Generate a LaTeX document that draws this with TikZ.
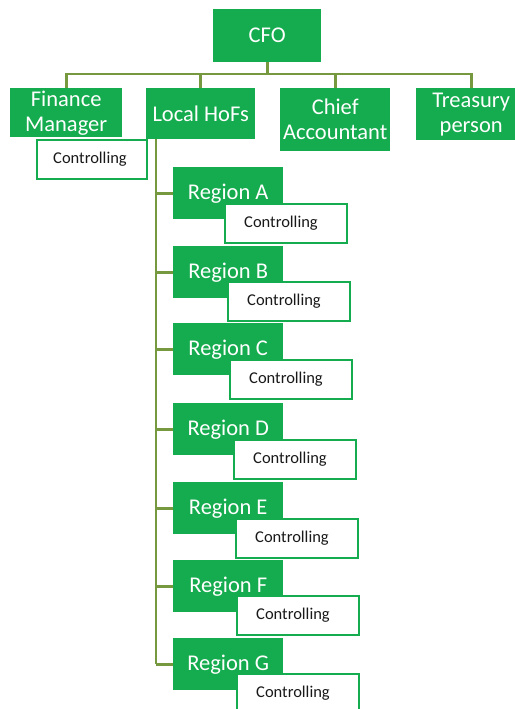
\documentclass[tikz,border=0pt]{standalone}
\usepackage{fontspec}
\setmainfont{Carlito}
\definecolor{boxgreen}{RGB}{20,172,78}
\definecolor{linkgreen}{RGB}{118,152,62}
\definecolor{inktext}{RGB}{25,25,25}
\tikzset{
  gbox/.style={fill=boxgreen, draw=none, text=white, anchor=north west,
    inner sep=0pt, align=center, font=\fontsize{22.5}{25}\selectfont},
  ctrlbox/.style={fill=white, draw=boxgreen, line width=2pt, text=inktext,
    anchor=north west, inner sep=0pt, minimum width=122pt, minimum height=39pt,
    font=\fontsize{16.5}{18}\selectfont},
  link/.style={draw=linkgreen, line width=2.8pt},
}
\begin{document}
\begin{tikzpicture}[x=1pt, y=-1pt]
  \useasboundingbox (0,0) rectangle (514,709);
  \fill[white] (0,0) rectangle (514,709);

  % top level
  \node[gbox, minimum width=108pt, minimum height=53pt] (cfo) at (213,9) {CFO};
  \node[gbox, minimum width=112pt, minimum height=49pt] (fm) at (10,88) {Finance\\Manager};
  \node[gbox, minimum width=109pt, minimum height=51pt] (lh) at (146,88) {Local HoFs};
  \node[gbox, minimum width=110pt, minimum height=63pt] (ca) at (280,88) {Chief\\Accountant};
  \node[gbox, minimum width=110pt, minimum height=52pt] (tp) at (416,88) {Treasury\\person};
  \node[ctrlbox, minimum width=110pt] (fmc) at (36,139) {\hspace*{-4pt}Controlling};

  % connectors from the CFO
  \coordinate (bus) at (267,74);
  \draw[link] (cfo.south) -- (cfo.south |- bus);
  \draw[link] (fm.north) -- (fm.north |- bus) -- (tp.north |- bus) -- (tp.north);
  \draw[link] (lh.north) -- (lh.north |- bus);
  \draw[link] (ca.north) -- (ca.north |- bus);

  % regions under the local heads of finance
  \coordinate (trunk) at (156,139);
  \foreach \name/\lbl/\top/\cx/\ct in {
      rA/A/167/224/203, rB/B/246/227/281, rC/C/323/229/359,
      rD/D/403/233/439, rE/E/482/235/518, rF/F/560/236/595,
      rG/G/638/236/673} {
    \node[gbox, minimum width=110pt, minimum height=52pt] (\name) at (173,\top) {Region \lbl};
    \node[ctrlbox] (\name c) at (\cx,\ct) {\hspace*{-10pt}Controlling};
    \draw[link] (\name.west -| trunk) -- (\name.west);
  }
  \draw[link] (trunk) -- (rG.west -| trunk);
\end{tikzpicture}
\end{document}
